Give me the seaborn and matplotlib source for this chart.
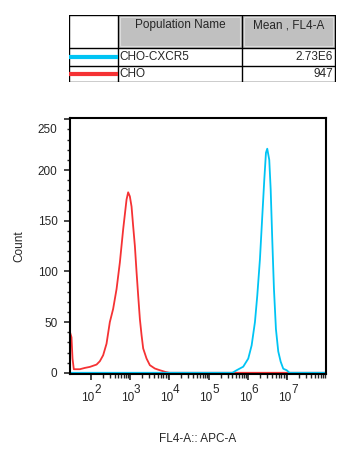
import numpy as np
import pandas as pd
import matplotlib
matplotlib.use('Agg')
import matplotlib.pyplot as plt
import matplotlib.transforms as mtransforms
from matplotlib.patches import Rectangle
import seaborn as sns

cho_x = [1.47, 1.508, 1.534, 1.567, 1.72, 1.847, 1.975, 2.145, 2.229, 2.313, 2.399,
         2.483, 2.567, 2.654, 2.738, 2.822, 2.908, 2.949, 2.992, 3.035, 3.076, 3.12,
         3.163, 3.204, 3.247, 3.29, 3.331, 3.417, 3.501, 3.628, 3.756, 3.9, 4.0, 7.98]
cho_y = [40, 35, 14, 3.5, 3.5, 4.8, 5.8, 8.1, 11.4, 17.3, 28.7,
         50, 63, 82.6, 108.8, 141.5, 170.9, 178, 174, 164, 144.7, 125,
         99, 76, 53, 37, 24, 14, 7.5, 4.2, 2.5, 0.8, 0, 0]

cxcr5_x = [1.47, 5.6, 5.707, 5.875, 6.003, 6.089, 6.173, 6.232, 6.3, 6.359, 6.41,
           6.453, 6.486, 6.537, 6.573, 6.613, 6.656, 6.707, 6.766, 6.827, 6.893,
           6.98, 7.05, 7.98]
cxcr5_y = [0, 0, 2.5, 6, 14, 27, 50, 76, 112, 154, 190,
           217, 221, 210, 181, 132, 83, 43, 21, 11, 4,
           2.5, 0, 0]

decades = [2, 3, 4, 5, 6, 7]
pop_names = ["CHO-CXCR5", "CHO"]
pop_means = ["2.73E6", "947"]
pop_colors = ["#00c4f4", "#f53234"]

sns.set_style('ticks')
plt.rcParams['font.family'] = ['Liberation Sans', 'DejaVu Sans']

W, H = 354, 453
fig = plt.figure(figsize=(W / 100, H / 100), dpi=100)

# ---- main histogram ----
ax = fig.add_axes([70 / W, 1 - 374.3 / H, 256 / W, 256 / H])
df_cho = pd.DataFrame({'x': cho_x, 'y': cho_y})
df_cx = pd.DataFrame({'x': cxcr5_x, 'y': cxcr5_y})
sns.lineplot(data=df_cho, x='x', y='y', color=pop_colors[1], linewidth=1.3, ax=ax)
sns.lineplot(data=df_cx, x='x', y='y', color=pop_colors[0], linewidth=1.3, ax=ax)

ax.set_xlim(1.47, 7.98)
ax.set_ylim(-1.5, 251)
for s in ax.spines.values():
    s.set_visible(True)
    s.set_linewidth(1.5)
    s.set_color('black')

ax.set_yticks([0, 50, 100, 150, 200, 250])
ax.set_yticks(np.arange(0, 251, 10), minor=True)
minor_x = [d + np.log10(m) for d in decades for m in range(2, 10) if d + np.log10(m) < 7.98]
ax.set_xticks(decades)
ax.set_xticks(minor_x, minor=True)
ax.set_xticklabels(['10'] * len(decades))
ax.tick_params(axis='y', which='major', length=4, width=1.2, pad=5, labelsize=8.5)
ax.tick_params(axis='y', which='minor', length=2.5, width=1)
ax.tick_params(axis='x', which='major', length=4.5, width=1.2, pad=8, labelsize=8.5)
ax.tick_params(axis='x', which='minor', length=2.8, width=1)

# FlowJo-style: top label pushed inside
lab = ax.get_yticklabels()[-1]
lab.set_transform(lab.get_transform() + mtransforms.ScaledTranslation(0, -9 / 100, fig.dpi_scale_trans))
for lab in ax.get_xticklabels():
    lab.set_transform(lab.get_transform() + mtransforms.ScaledTranslation(-2.7 / 100, 0, fig.dpi_scale_trans))

trans = mtransforms.blended_transform_factory(ax.transData, ax.transAxes)
for d in decades:
    ax.text(d, 0, str(d), fontsize=8.5, ha='left', va='top',
            transform=trans + mtransforms.ScaledTranslation(3.5 / 100, -9.5 / 100, fig.dpi_scale_trans))

ax.set_xlabel('FL4-A:: APC-A', fontsize=8.5, labelpad=21)
ax.set_ylabel('Count', fontsize=8.5, labelpad=9)

# ---- population table ----
tx = fig.add_axes([69 / W, 1 - 82.5 / H, (335.5 - 69) / W, (82.5 - 14.5) / H])
tx.set_xlim(69, 335.5)
tx.set_ylim(82.5, 14.5)
tx.axis('off')
cols = [69, 118, 242, 335]
rows = [15, 48, 66, 82]
for x0, x1 in [(118, 242), (242, 335)]:
    tx.add_patch(Rectangle((x0, 15), x1 - x0, 33, facecolor='#c0c0c0', edgecolor='none'))
    tx.add_patch(Rectangle((x0 + 2, 17), x1 - x0 - 4, 29, facecolor='none', edgecolor='#dcdcdc', linewidth=0.8))
for y in rows:
    tx.plot([69, 335], [y, y], color='black', linewidth=1)
for x in cols:
    tx.plot([x, x], [15, 82], color='black', linewidth=1)
tx.text(180, 25, 'Population Name', ha='center', va='center', fontsize=8.5)
tx.text(288.5, 25, 'Mean , FL4-A', ha='center', va='center', fontsize=8.5)
for i in range(2):
    yc = (rows[i + 1] + rows[i + 2]) / 2
    tx.plot([69, 118], [yc, yc], color=pop_colors[i], linewidth=3, solid_capstyle='butt')
    tx.text(119.5, yc + 0.5, pop_names[i], ha='left', va='center', fontsize=8.5)
    tx.text(333, yc + 0.5, pop_means[i], ha='right', va='center', fontsize=8.5)

plt.savefig('out.png', dpi=100)
